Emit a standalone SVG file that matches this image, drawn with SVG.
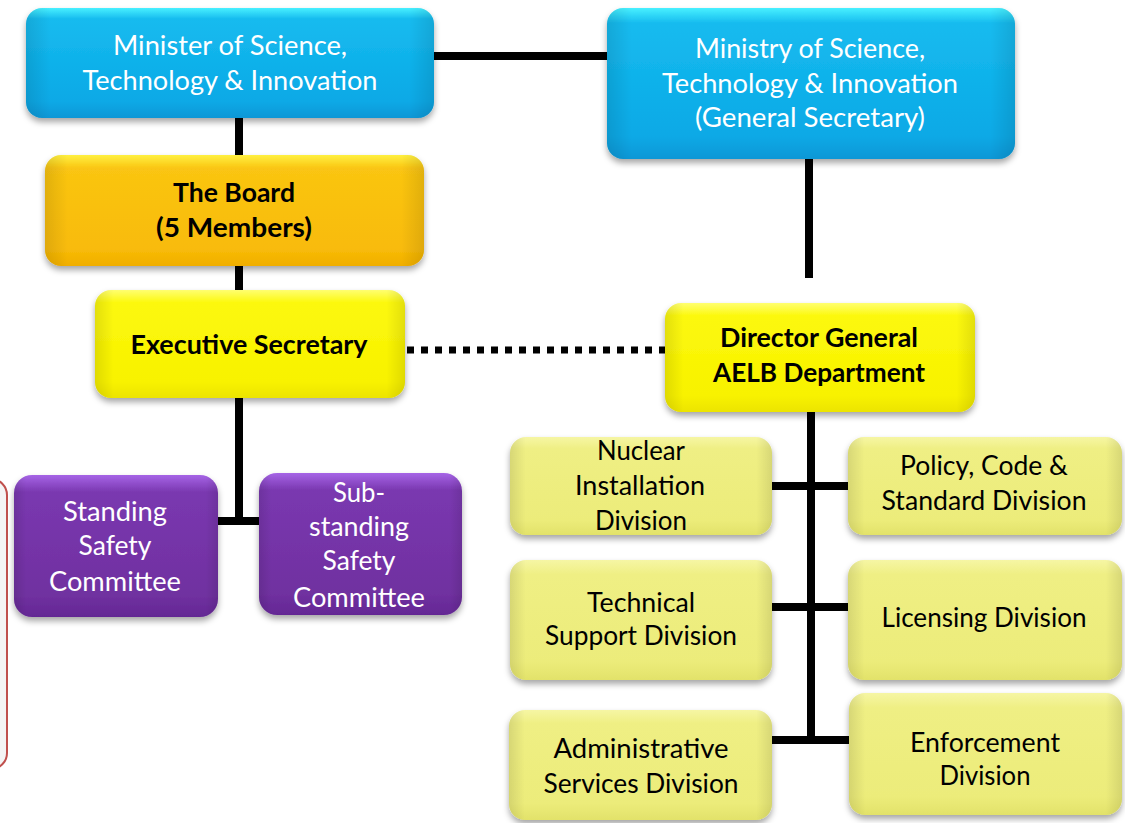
<svg xmlns="http://www.w3.org/2000/svg" width="1125" height="823" viewBox="0 0 1125 823">
<style>
text { font-family: Lato, "Open Sans", "Liberation Sans", sans-serif; font-size: 27px; text-anchor: middle; }
.w { fill: #ffffff; }
.k { fill: #000000; }
.b { font-weight: bold; }
.conn { stroke: #000000; stroke-width: 8; fill: none; }
.dot { stroke: #000000; stroke-width: 7; stroke-dasharray: 7 7; fill: none; }
.edge { fill: url(#edgeShade); }
</style>
<defs>
<filter id="sh" x="-10%" y="-10%" width="120%" height="130%">
<feDropShadow dx="0" dy="4" stdDeviation="3" flood-color="#000000" flood-opacity="0.35"/>
</filter>
<linearGradient id="gBlue" x1="0" y1="0" x2="0" y2="1">
<stop offset="0" stop-color="#48f0ff"/>
<stop offset="0.1" stop-color="#16bbef"/>
<stop offset="0.85" stop-color="#0aa9e6"/>
<stop offset="1" stop-color="#0897d6"/>
</linearGradient>
<linearGradient id="gOrange" x1="0" y1="0" x2="0" y2="1">
<stop offset="0" stop-color="#fff040"/>
<stop offset="0.12" stop-color="#fac512"/>
<stop offset="0.85" stop-color="#f8bb08"/>
<stop offset="1" stop-color="#f0ae00"/>
</linearGradient>
<linearGradient id="gYellow" x1="0" y1="0" x2="0" y2="1">
<stop offset="0" stop-color="#ffff70"/>
<stop offset="0.12" stop-color="#fcf80c"/>
<stop offset="0.85" stop-color="#f8f200"/>
<stop offset="1" stop-color="#ece400"/>
</linearGradient>
<linearGradient id="gPurple" x1="0" y1="0" x2="0" y2="1">
<stop offset="0" stop-color="#a664e6"/>
<stop offset="0.12" stop-color="#7a38b0"/>
<stop offset="0.85" stop-color="#7030a0"/>
<stop offset="1" stop-color="#642894"/>
</linearGradient>
<linearGradient id="gPale" x1="0" y1="0" x2="0" y2="1">
<stop offset="0" stop-color="#f6f6a4"/>
<stop offset="0.12" stop-color="#efef84"/>
<stop offset="0.85" stop-color="#ecec7a"/>
<stop offset="1" stop-color="#e2e26a"/>
</linearGradient>
<linearGradient id="edgeShade" x1="0" y1="0" x2="1" y2="0">
<stop offset="0" stop-color="#000000" stop-opacity="0.10"/>
<stop offset="0.06" stop-color="#000000" stop-opacity="0"/>
<stop offset="0.94" stop-color="#000000" stop-opacity="0"/>
<stop offset="1" stop-color="#000000" stop-opacity="0.10"/>
</linearGradient>
</defs>
<rect width="1125" height="823" fill="#ffffff"/>

<g id="side-panel">
<rect x="-30" y="479" width="37" height="290" rx="16" fill="#f4f4f4" stroke="#c0504d" stroke-width="2"/>
</g>

<g id="connectors">
<line class="conn" x1="434" y1="56" x2="607" y2="56"/>
<line class="conn" x1="239" y1="118" x2="239" y2="155"/>
<line class="conn" x1="239" y1="266" x2="239" y2="290"/>
<line class="conn" x1="809" y1="159" x2="809" y2="278"/>
<line class="dot" x1="407" y1="350" x2="665" y2="350"/>
<path class="conn" d="M239 398 V521 M218 521 H259"/>
<line class="conn" x1="811" y1="412" x2="811" y2="744"/>
<line class="conn" x1="772" y1="486" x2="848" y2="486"/>
<line class="conn" x1="772" y1="607" x2="848" y2="607"/>
<line class="conn" x1="772" y1="740" x2="849" y2="740"/>
</g>

<g id="minister">
<rect x="26" y="8" width="408" height="110" rx="16" fill="url(#gBlue)" filter="url(#sh)"/>
<rect class="edge" x="26" y="8" width="408" height="110" rx="16"/>
<text class="w" x="230" y="55" textLength="234" lengthAdjust="spacingAndGlyphs">Minister of Science,</text>
<text class="w" x="230" y="90" textLength="295" lengthAdjust="spacingAndGlyphs">Technology &amp; Innovation</text>
</g>

<g id="ministry">
<rect x="607" y="8" width="408" height="151" rx="16" fill="url(#gBlue)" filter="url(#sh)"/>
<rect class="edge" x="607" y="8" width="408" height="151" rx="16"/>
<text class="w" x="810" y="58" textLength="230" lengthAdjust="spacingAndGlyphs">Ministry of Science,</text>
<text class="w" x="810" y="93" textLength="296" lengthAdjust="spacingAndGlyphs">Technology &amp; Innovation</text>
<text class="w" x="810" y="127" textLength="230" lengthAdjust="spacingAndGlyphs">(General Secretary)</text>
</g>

<g id="board">
<rect x="45" y="155" width="379" height="111" rx="16" fill="url(#gOrange)" filter="url(#sh)"/>
<rect class="edge" x="45" y="155" width="379" height="111" rx="16"/>
<text class="k b" x="234" y="202" textLength="122" lengthAdjust="spacingAndGlyphs">The Board</text>
<text class="k b" x="234" y="237" textLength="156" lengthAdjust="spacingAndGlyphs">(5 Members)</text>
</g>

<g id="executive-secretary">
<rect x="95" y="290" width="310" height="108" rx="16" fill="url(#gYellow)" filter="url(#sh)"/>
<rect class="edge" x="95" y="290" width="310" height="108" rx="16"/>
<text class="k b" x="249" y="354" textLength="237" lengthAdjust="spacingAndGlyphs">Executive Secretary</text>
</g>

<g id="director-general">
<rect x="665" y="303" width="310" height="109" rx="16" fill="url(#gYellow)" filter="url(#sh)"/>
<rect class="edge" x="665" y="303" width="310" height="109" rx="16"/>
<text class="k b" x="819" y="347" textLength="198" lengthAdjust="spacingAndGlyphs">Director General</text>
<text class="k b" x="819" y="382" textLength="212" lengthAdjust="spacingAndGlyphs">AELB Department</text>
</g>

<g id="standing-committee">
<rect x="14" y="475" width="204" height="142" rx="18" fill="url(#gPurple)" filter="url(#sh)"/>
<rect class="edge" x="14" y="475" width="204" height="142" rx="18"/>
<text class="w" x="115" y="521" textLength="104" lengthAdjust="spacingAndGlyphs">Standing</text>
<text class="w" x="115" y="555" textLength="73" lengthAdjust="spacingAndGlyphs">Safety</text>
<text class="w" x="115" y="591" textLength="132" lengthAdjust="spacingAndGlyphs">Committee</text>
</g>

<g id="substanding-committee">
<rect x="259" y="473" width="203" height="142" rx="18" fill="url(#gPurple)" filter="url(#sh)"/>
<rect class="edge" x="259" y="473" width="203" height="142" rx="18"/>
<text class="w" x="359" y="502" textLength="52" lengthAdjust="spacingAndGlyphs">Sub-</text>
<text class="w" x="359" y="536" textLength="100" lengthAdjust="spacingAndGlyphs">standing</text>
<text class="w" x="359" y="570" textLength="73" lengthAdjust="spacingAndGlyphs">Safety</text>
<text class="w" x="359" y="607" textLength="132" lengthAdjust="spacingAndGlyphs">Committee</text>
</g>

<g id="nuclear-installation">
<rect x="510" y="437" width="262" height="98" rx="16" fill="url(#gPale)" filter="url(#sh)"/>
<rect class="edge" x="510" y="437" width="262" height="98" rx="16"/>
<text class="k" x="641" y="460" textLength="88" lengthAdjust="spacingAndGlyphs">Nuclear</text>
<text class="k" x="640" y="495" textLength="130" lengthAdjust="spacingAndGlyphs">Installation</text>
<text class="k" x="641" y="530" textLength="92" lengthAdjust="spacingAndGlyphs">Division</text>
</g>

<g id="technical-support">
<rect x="510" y="560" width="262" height="120" rx="16" fill="url(#gPale)" filter="url(#sh)"/>
<rect class="edge" x="510" y="560" width="262" height="120" rx="16"/>
<text class="k" x="641" y="612" textLength="108" lengthAdjust="spacingAndGlyphs">Technical</text>
<text class="k" x="641" y="645" textLength="192" lengthAdjust="spacingAndGlyphs">Support Division</text>
</g>

<g id="administrative-services">
<rect x="509" y="710" width="263" height="110" rx="16" fill="url(#gPale)" filter="url(#sh)"/>
<rect class="edge" x="509" y="710" width="263" height="110" rx="16"/>
<text class="k" x="641" y="758" textLength="175" lengthAdjust="spacingAndGlyphs">Administrative</text>
<text class="k" x="641" y="793" textLength="195" lengthAdjust="spacingAndGlyphs">Services Division</text>
</g>

<g id="policy-code-standard">
<rect x="848" y="437" width="274" height="98" rx="16" fill="url(#gPale)" filter="url(#sh)"/>
<rect class="edge" x="848" y="437" width="274" height="98" rx="16"/>
<text class="k" x="984" y="475" textLength="168" lengthAdjust="spacingAndGlyphs">Policy, Code &amp;</text>
<text class="k" x="984" y="510" textLength="205" lengthAdjust="spacingAndGlyphs">Standard Division</text>
</g>

<g id="licensing">
<rect x="848" y="560" width="274" height="120" rx="16" fill="url(#gPale)" filter="url(#sh)"/>
<rect class="edge" x="848" y="560" width="274" height="120" rx="16"/>
<text class="k" x="984" y="627" textLength="205" lengthAdjust="spacingAndGlyphs">Licensing Division</text>
</g>

<g id="enforcement">
<rect x="849" y="693" width="273" height="122" rx="16" fill="url(#gPale)" filter="url(#sh)"/>
<rect class="edge" x="849" y="693" width="273" height="122" rx="16"/>
<text class="k" x="985" y="752" textLength="150" lengthAdjust="spacingAndGlyphs">Enforcement</text>
<text class="k" x="985" y="785" textLength="91" lengthAdjust="spacingAndGlyphs">Division</text>
</g>
</svg>
